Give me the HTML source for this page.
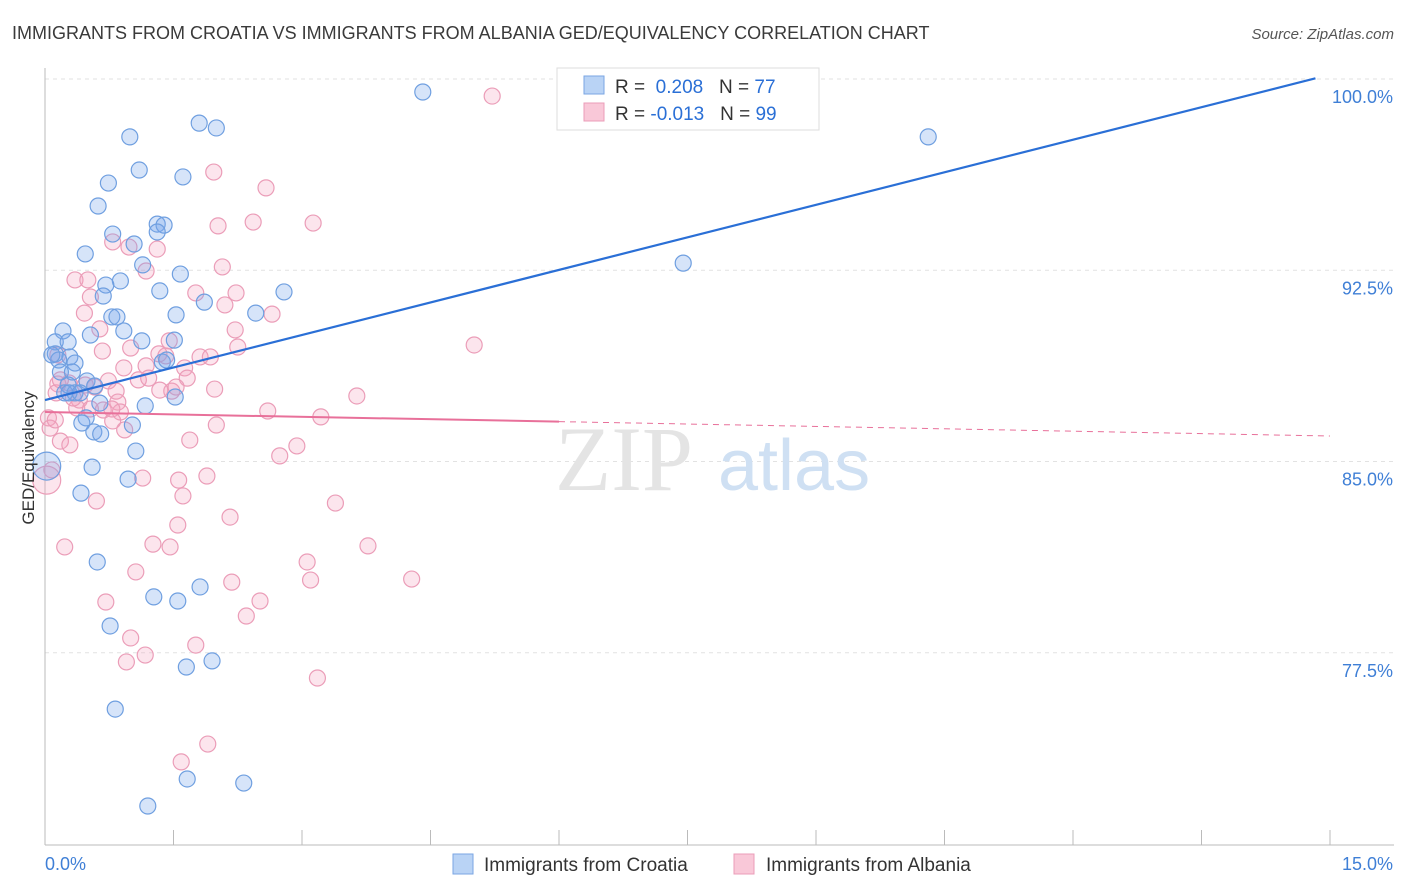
<!DOCTYPE html>
<html><head><meta charset="utf-8"><style>
body{margin:0;background:#fff;font-family:"Liberation Sans",sans-serif}
</style></head><body>
<svg id="chart" width="1406" height="892" xmlns="http://www.w3.org/2000/svg" style="display:block">
<text x="12" y="39" font-size="18" fill="#3a3a3a">IMMIGRANTS FROM CROATIA VS IMMIGRANTS FROM ALBANIA GED/EQUIVALENCY CORRELATION CHART</text>
<text x="1394" y="39" font-size="15" fill="#555" text-anchor="end" font-style="italic">Source: ZipAtlas.com</text>
<g id="grid"></g>
<text x="555" y="490" font-size="92" fill="#e4e4e4" font-family="Liberation Serif">ZIP</text>
<text x="718" y="490" font-size="72" fill="#cfe0f3">atlas</text>
<g id="marks"></g>
<text transform="translate(34,458) rotate(-90)" font-size="17" fill="#333" text-anchor="middle">GED/Equivalency</text>
<g>
<rect x="557" y="68" width="262" height="62" fill="#fff" stroke="#ddd"/>
<rect x="584" y="76" width="20" height="18" fill="#b9d3f5" stroke="#7aa6e3"/>
<rect x="584" y="103" width="20" height="18" fill="#f9c8d8" stroke="#eb9db8"/>
<text x="615" y="93" font-size="19" fill="#333">R = <tspan fill="#2a6fd6">&#160;0.208</tspan>&#160;&#160;&#160;N = <tspan fill="#2a6fd6">77</tspan></text>
<text x="615" y="120" font-size="19" fill="#333">R = <tspan fill="#2a6fd6">-0.013</tspan>&#160;&#160;&#160;N = <tspan fill="#2a6fd6">99</tspan></text>
</g>
<g>
<rect x="453" y="854" width="20" height="20" fill="#b9d3f5" stroke="#7aa6e3"/>
<text x="484" y="871" font-size="19" fill="#333">Immigrants from Croatia</text>
<rect x="734" y="854" width="20" height="20" fill="#f9c8d8" stroke="#eb9db8"/>
<text x="766" y="871" font-size="19" fill="#333">Immigrants from Albania</text>
</g>
</svg>
<script>
const yTicks=[100,92.5,85,77.5];
const xTickLabels=["0.0%","15.0%"];
const croatiaX=[4.41,10.31,7.45,0.99,1.80,2.00,1.10,0.74,1.61,0.62,1.31,1.39,1.31,0.79,1.04,0.47,1.14,1.58,0.88,0.71,0.68,1.34,1.86,2.79,2.46,0.78,0.84,0.92,0.21,1.53,0.53,1.13,1.51,0.12,0.27,0.12,0.29,0.16,1.37,1.42,0.35,0.18,0.32,0.49,0.27,0.58,0.23,0.35,1.52,0.64,1.17,1.02,0.48,0.43,0.57,0.65,1.06,0.55,0.97,0.42,0.61,1.27,1.55,1.81,0.76,1.65,1.95,0.82,1.66,2.32,1.20,0.28,0.08,0.41,0.02];
const croatiaY=[99.49,97.73,92.78,97.73,98.27,98.08,96.43,95.92,96.16,95.02,94.31,94.27,94.00,93.92,93.53,93.14,92.71,92.35,92.08,91.92,91.49,91.69,91.25,91.65,90.82,90.67,90.67,90.12,90.12,90.75,89.96,89.73,89.76,89.69,89.69,89.22,89.10,88.98,88.90,88.98,88.86,88.51,88.51,88.16,88.00,87.96,87.69,87.69,87.53,87.29,87.18,86.43,86.71,86.51,86.16,86.08,85.41,84.78,84.31,83.76,81.06,79.69,79.53,80.08,78.55,76.94,77.18,75.29,72.55,72.39,71.49,87.69,89.18,87.69,84.82];
const albaniaX=[5.22,1.97,2.58,2.43,3.13,2.02,1.31,0.79,0.98,1.18,2.07,0.35,0.50,0.53,1.76,2.23,2.10,2.65,0.46,0.64,2.22,1.45,2.25,0.15,1.00,1.33,1.41,1.81,1.93,5.01,0.67,1.18,1.63,0.92,0.15,0.28,0.47,0.74,1.09,1.21,1.48,1.66,0.83,0.13,0.40,0.37,0.85,0.88,0.68,0.79,0.93,0.04,0.06,3.64,3.22,2.60,2.00,0.18,0.29,1.69,2.94,2.74,1.14,1.56,1.89,1.61,0.60,3.39,2.16,1.55,0.23,1.26,1.46,3.77,3.06,4.28,3.10,2.18,2.51,1.06,0.71,2.35,1.00,1.17,1.76,0.95,3.18,1.90,1.59,0.12,0.08,0.33,0.58,0.18,0.53,0.78,1.34,1.53,1.98,0.02];
const albaniaY=[99.33,96.35,95.73,94.39,94.35,94.24,93.33,93.61,93.41,92.47,92.63,92.12,92.12,91.45,91.61,91.61,91.14,90.78,90.82,90.20,90.16,89.73,89.49,89.18,89.45,89.22,89.14,89.10,89.10,89.57,89.33,88.75,88.67,88.67,88.04,88.08,88.00,88.16,88.20,88.27,87.76,88.27,87.76,87.69,87.41,87.10,87.33,86.94,87.02,86.59,86.24,86.71,86.31,87.57,86.75,86.98,86.43,85.80,85.65,85.84,85.61,85.22,84.35,84.27,84.43,83.65,83.45,83.37,82.82,82.51,81.65,81.76,81.65,81.69,81.06,80.39,80.35,80.27,79.53,80.67,79.49,78.94,78.08,77.41,77.80,77.14,76.51,73.92,73.22,86.63,84.67,87.49,87.92,88.20,87.06,87.06,87.80,87.92,87.84,84.27];
const trendCroatia=[87.41,100.17];
const trendAlbania=[86.94,86.0];
const NS="http://www.w3.org/2000/svg";
const X0=45,X1=1330,XMAX=15,Y0=79,YSC=25.5;
function sx(v){return X0+v/XMAX*(X1-X0);}
function sy(v){return Y0+(100-v)*YSC;}
function mk(t,a,p){const e=document.createElementNS(NS,t);for(const k in a)e.setAttribute(k,a[k]);p.appendChild(e);return e;}
const grid=document.getElementById('grid'),marks=document.getElementById('marks');
yTicks.forEach(v=>{
 const l=mk('line',{x1:45,x2:1394,y1:sy(v),y2:sy(v),stroke:'#e2e2e2','stroke-dasharray':'4,4'},grid);
 
 
 const t=mk('text',{x:1393,y:sy(v)+24,'font-size':18,fill:'#3f7fd6','text-anchor':'end'},grid);
 t.textContent=v.toFixed(1)+'%';
 
 
});
const ax=mk('line',{x1:45,x2:1394,y1:845,y2:845,stroke:'#bbb'},grid);


const ay=mk('line',{x1:45,x2:45,y1:68,y2:845,stroke:'#bbb'},grid);


for(let i=1;i<=10;i++){const tk=mk('line',{x1:sx(i*1.5),x2:sx(i*1.5),y1:830,y2:845,stroke:'#bbb'},grid);
 
 }
[[xTickLabels[0],45,'start'],[xTickLabels[1],1393,'end']].forEach(([s,x,a])=>{const t=mk('text',{x:x,y:870,'font-size':18,fill:'#3f7fd6','text-anchor':a},grid);t.textContent=s;
 
 });
function pts(xs,ys,fill,stroke,name){xs.forEach((x,i)=>{const big=(i===xs.length-1&&x<0.05);
 const c=mk('circle',{cx:sx(x),cy:sy(ys[i]),r:big?14:8,fill:fill,stroke:stroke,'stroke-width':1.2},marks);
 
 });}
pts(albaniaX,albaniaY,'rgba(244,160,190,0.28)','#eb9db8','albania-point');
pts(croatiaX,croatiaY,'rgba(120,165,235,0.3)','#6f9fe0','croatia-point');
const bl=mk('line',{x1:sx(0),y1:sy(trendCroatia[0]),x2:sx(14.83),y2:sy(trendCroatia[0]+(trendCroatia[1]-trendCroatia[0])*14.83/15),stroke:'#2a6fd6','stroke-width':2.2},marks);


function ay2(x){return trendAlbania[0]+(trendAlbania[1]-trendAlbania[0])*x/15;}
const pl=mk('line',{x1:sx(0),y1:sy(ay2(0)),x2:sx(6),y2:sy(ay2(6)),stroke:'#e8709a','stroke-width':2},marks);


const pd=mk('line',{x1:sx(6),y1:sy(ay2(6)),x2:sx(15),y2:sy(ay2(15)),stroke:'#e8709a','stroke-width':1,'stroke-dasharray':'6,5'},marks);


</script>
</body></html>
